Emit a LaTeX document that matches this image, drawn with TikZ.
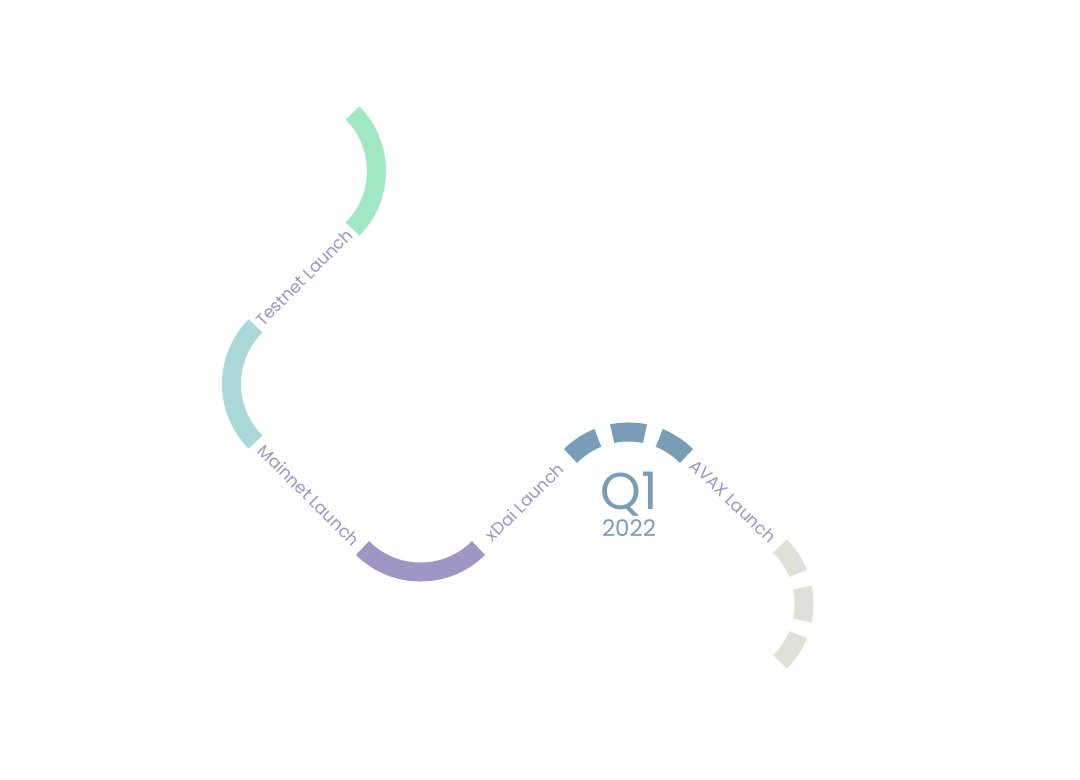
\documentclass[tikz,border=0pt]{standalone}
\usepackage{fontspec}
\setmainfont{Poppins}
\definecolor{testnetgreen}{HTML}{A0E8C4}
\definecolor{mainnetteal}{HTML}{AAD8D8}
\definecolor{xdaipurple}{HTML}{A096C6}
\definecolor{avaxblue}{HTML}{7A9DB7}
\definecolor{futuregray}{HTML}{E0E0D8}
\definecolor{labelpurple}{HTML}{9C93C8}

\begin{document}
\begin{tikzpicture}[x=1bp,y=-1bp,
    leg/.style={line width=19bp},
    dashedleg/.style={line width=19bp,dash pattern=on 33bp off 15bp},
    lbl/.style={text=labelpurple,font=\fontsize{17}{20}\selectfont,sloped,midway,inner sep=0pt}]
    \useasboundingbox (0,0) rectangle (1080,780);

    %points where the legs meet
    \coordinate (p0) at (352.5,113);
    \coordinate (p2) at (255.5,326);
    \coordinate (p4) at (362.5,548);
    \coordinate (p6) at (570.5,456);
    \coordinate (p8) at (780,546);

    %arcs
    \draw[leg,testnetgreen] (p0) arc[start angle=-45,end angle=45,radius=82] coordinate (p1);
    \draw[leg,mainnetteal] (p2) arc[start angle=-135,end angle=-225,radius=82] coordinate (p3);
    \draw[leg,xdaipurple] (p4) arc[start angle=135,end angle=45,radius=82] coordinate (p5);
    \draw[dashedleg,avaxblue] (p6) arc[start angle=-135,end angle=-45,radius=82] coordinate (p7);
    \draw[dashedleg,futuregray] (p8) arc[start angle=-45,end angle=45,radius=82] coordinate (p9);

    %labels between the arcs
    \path (p1) -- node[lbl] (testnet) {Testnet Launch} (p2);
    \path (p3) -- node[lbl] (mainnet) {Mainnet Launch} (p4);
    \path (p5) -- node[lbl] (xdai) {xDai Launch} (p6);
    \path (p7) -- node[lbl] (avax) {AVAX Launch} (p8);

    %quarter
    \node[text=avaxblue,font=\fontsize{52}{58}\selectfont] (quarter) at (629,494) {Q1};
    \node[text=avaxblue,font=\fontsize{23}{26}\selectfont] (year) at (629,528) {2022};
\end{tikzpicture}
\end{document}
